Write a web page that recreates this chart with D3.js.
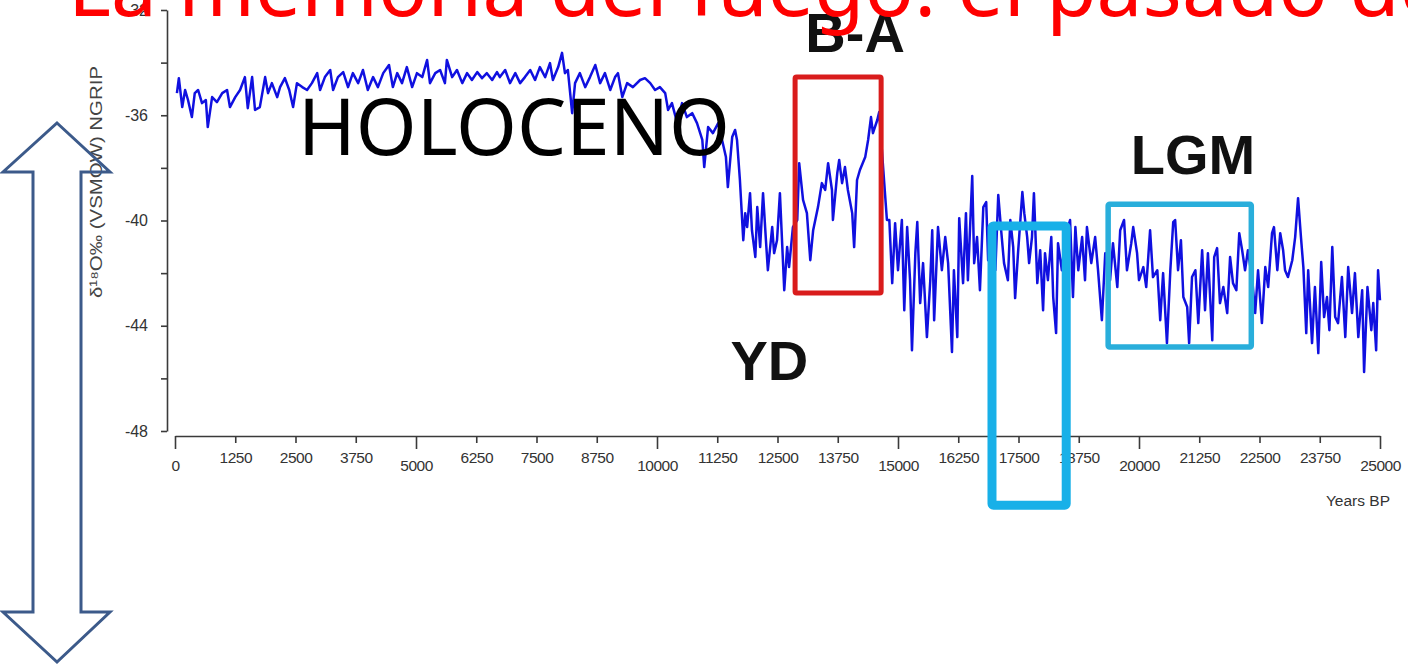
<!DOCTYPE html>
<html>
<head>
<meta charset="utf-8">
<script src="https://cdn.jsdelivr.net/npm/d3@7"></script>
<style>
  body { margin: 0; background: #fff; overflow: hidden; }
  svg { display: block; }
</style>
</head>
<body>
<div id="chart"></div>
<script>
// NGRIP d18O record (years BP / permil)
const years = [
  40, 80, 150, 210, 270, 350, 410, 480, 560, 640, 680, 770, 870, 980, 1080, 1140, 1250, 1350, 1450, 1510,
  1600, 1660, 1760, 1870, 1930, 2010, 2120, 2180, 2280, 2370, 2450, 2530, 2640, 2740, 2840, 2950, 3010, 3110, 3220, 3280,
  3380, 3490, 3590, 3690, 3800, 3900, 4000, 4110, 4210, 4320, 4440, 4520, 4610, 4710, 4810, 4920, 5020, 5130, 5230, 5290,
  5400, 5500, 5600, 5640, 5750, 5850, 5960, 6060, 6160, 6270, 6370, 6470, 6580, 6680, 6740, 6850, 6950, 7060, 7160, 7260,
  7370, 7470, 7570, 7680, 7780, 7840, 7950, 8030, 8090, 8150, 8240, 8300, 8400, 8510, 8610, 8720, 8820, 8920, 9030, 9130,
  9190, 9280, 9380, 9500, 9650, 9750, 9860, 9960, 10060, 10170, 10230, 10310, 10420, 10520, 10620, 10730, 10830, 10940, 10980, 11060,
  11160, 11270, 11350, 11430, 11470, 11560, 11620, 11660, 11720, 11790, 11830, 11870, 11930, 11970, 12040, 12080, 12140, 12200, 12260, 12300,
  12390, 12430, 12490, 12550, 12600, 12640, 12700, 12740, 12820, 12910, 12950, 13030, 13110, 13180, 13240, 13340, 13420, 13490, 13550, 13630,
  13650, 13740, 13780, 13840, 13900, 13960, 14050, 14090, 14150, 14210, 14320, 14380, 14440, 14480, 14570, 14610, 14670, 14770, 14820, 14880,
  14940, 15000, 15080, 15130, 15190, 15250, 15290, 15360, 15400, 15460, 15520, 15600, 15670, 15710, 15750, 15830, 15910, 15980, 16040, 16120,
  16160, 16230, 16270, 16350, 16410, 16450, 16540, 16580, 16640, 16700, 16770, 16830, 16870, 16950, 17020, 17080, 17140, 17200, 17280, 17330,
  17390, 17430, 17490, 17580, 17620, 17680, 17720, 17780, 17820, 17890, 17950, 18010, 18050, 18110, 18180, 18220, 18280, 18320, 18400, 18470,
  18570, 18630, 18680, 18740, 18820, 18880, 18920, 19010, 19090, 19150, 19230, 19300, 19400, 19460, 19550, 19610, 19690, 19750, 19840, 19880,
  19960, 20000, 20090, 20150, 20230, 20290, 20380, 20440, 20500, 20580, 20650, 20710, 20750, 20810, 20870, 20920, 21000, 21040, 21100, 21170,
  21230, 21310, 21370, 21430, 21520, 21560, 21620, 21680, 21750, 21830, 21890, 21950, 22020, 22080, 22140, 22200, 22260, 22350, 22410, 22470,
  22550, 22620, 22680, 22760, 22800, 22870, 22930, 22990, 23030, 23090, 23180, 23240, 23300, 23360, 23410, 23470, 23510, 23590, 23650, 23720,
  23780, 23840, 23900, 23950, 24010, 24070, 24130, 24210, 24280, 24340, 24420, 24480, 24550, 24630, 24670, 24740, 24820, 24860, 24920, 24960,
  25000
];
const d18O = [
  -35.16, -34.59, -35.69, -35.04, -35.42, -36.07, -35.16, -35.04, -35.54, -35.42, -36.45, -35.31, -35.50, -35.16, -35.04, -35.69, -35.31, -35.04, -34.55, -35.73,
  -34.55, -35.80, -35.69, -34.55, -35.16, -34.78, -35.31, -34.93, -34.59, -35.04, -35.69, -34.78, -34.93, -35.04, -34.78, -34.40, -35.04, -34.55, -34.28, -35.04,
  -34.55, -34.36, -34.93, -34.40, -34.78, -34.28, -35.04, -34.55, -34.93, -34.40, -34.09, -34.93, -34.40, -34.78, -34.17, -34.93, -34.40, -34.55, -33.90, -34.78,
  -34.40, -34.28, -34.78, -33.90, -34.55, -34.28, -34.78, -34.40, -34.66, -34.36, -34.59, -34.40, -34.66, -34.36, -34.55, -34.28, -34.78, -34.40, -34.78, -34.55,
  -34.28, -34.66, -34.17, -34.55, -34.02, -34.66, -34.17, -33.63, -34.40, -34.28, -35.92, -34.78, -34.40, -34.93, -34.55, -34.09, -34.78, -34.40, -35.04, -34.55,
  -34.40, -35.31, -34.78, -34.93, -34.66, -34.59, -34.78, -35.04, -34.93, -35.16, -35.80, -35.54, -36.30, -35.54, -36.07, -35.92, -36.30, -36.94, -37.97, -36.45,
  -36.68, -36.30, -36.94, -37.59, -38.73, -36.83, -36.56, -36.94, -38.46, -40.75, -39.72, -40.25, -38.96, -40.37, -41.39, -39.49, -41.01, -38.96, -40.75, -41.89,
  -40.25, -41.24, -40.75, -38.96, -41.01, -42.65, -41.01, -41.77, -40.25, -39.98, -37.82, -39.22, -39.72, -41.51, -40.37, -39.49, -38.58, -38.84, -37.82, -38.84,
  -39.98, -38.20, -37.70, -38.58, -37.97, -38.84, -39.72, -41.01, -38.46, -38.08, -37.59, -36.94, -36.07, -36.68, -36.18, -35.88, -37.44, -39.98, -39.98, -42.38,
  -40.10, -41.89, -39.98, -43.41, -40.25, -42.27, -44.93, -41.24, -40.06, -43.14, -41.62, -44.43, -42.27, -40.37, -43.79, -40.25, -41.89, -40.63, -41.62, -45.00,
  -41.89, -44.43, -39.91, -42.38, -39.72, -42.27, -38.31, -41.62, -40.63, -42.65, -39.49, -39.30, -41.51, -40.63, -41.89, -39.03, -40.37, -41.62, -42.27, -39.98,
  -41.01, -42.95, -41.24, -38.92, -39.72, -40.63, -41.62, -40.63, -38.96, -42.38, -41.13, -43.41, -41.24, -42.27, -40.63, -42.91, -44.28, -40.86, -41.89, -40.63,
  -39.98, -42.91, -40.25, -41.89, -40.63, -42.27, -40.25, -41.62, -40.63, -41.89, -43.79, -41.24, -42.27, -40.86, -42.53, -40.37, -39.98, -41.89, -40.86, -40.25,
  -41.24, -42.27, -41.77, -42.53, -40.37, -42.15, -41.89, -43.79, -42.00, -44.66, -41.89, -40.06, -39.98, -41.89, -40.75, -42.91, -43.29, -44.66, -42.15, -41.89,
  -43.90, -41.13, -43.41, -41.24, -44.55, -41.39, -41.05, -43.14, -42.53, -43.52, -41.39, -42.38, -42.65, -40.48, -41.13, -41.89, -41.13, -42.27, -43.52, -41.89,
  -43.90, -41.77, -42.53, -40.48, -40.25, -41.89, -40.48, -41.13, -41.89, -42.15, -41.51, -40.63, -39.15, -40.63, -41.77, -44.28, -41.89, -44.66, -42.53, -45.04,
  -41.58, -43.67, -42.91, -44.17, -41.01, -43.67, -43.90, -42.15, -44.43, -41.77, -43.52, -42.00, -44.43, -42.65, -45.76, -42.53, -44.17, -43.14, -44.93, -41.89,
  -43.03
];

// axes
const xTicks = [0, 1250, 2500, 3750, 5000, 6250, 7500, 8750, 10000, 11250, 12500, 13750, 15000, 16250, 17500, 18750, 20000, 21250, 22500, 23750, 25000];
const yTicks = [-48, -46, -44, -42, -40, -38, -36, -34, -32];
const yLabelled = [-48, -44, -40, -36, -32];

// annotation boxes (years BP / permil)
const boxStart = [12865, 16950, 19360];
const boxEnd = [14650, 18490, 22330];
const boxTop = [-34.55, -40.21, -39.38];
const boxBottom = [-42.76, -50.82, -44.81];

// period labels
const periodNames = ["B-A", "YD", "LGM"];
const periodYear = [14110, 12330, 21120];
const periodValue = [-33.6, -46.07, -38.24];

const W = 1408, H = 668;
const svg = d3.select("#chart").append("svg")
    .attr("width", W)
    .attr("height", H);

svg.append("rect").attr("width", W).attr("height", H).attr("fill", "#fff");

const x = d3.scaleLinear().domain([0, 25000]).range([175, 1380]);
const y = d3.scaleLinear().domain([-48, -32]).range([431, 10]);

const tickFont = "'Liberation Sans', Arial, sans-serif";

// y axis
const yAxis = svg.append("g")
    .attr("transform", "translate(167,0)")
    .call(d3.axisLeft(y).tickValues(yTicks).tickSize(6).tickSizeOuter(0)
        .tickFormat(d => yLabelled.includes(d) ? String(d) : ""));
yAxis.select(".domain").attr("stroke", "#3a3a3a").attr("stroke-width", 1.6);
yAxis.selectAll(".tick line").attr("stroke", "#3a3a3a").attr("stroke-width", 1.6);
yAxis.selectAll(".tick text")
    .attr("x", -19)
    .attr("fill", "#333")
    .style("font-family", tickFont)
    .style("font-size", "16px");

// x axis
const xAxis = svg.append("g")
    .attr("transform", "translate(0,436)")
    .call(d3.axisBottom(x).tickValues(xTicks).tickSize(7).tickSizeOuter(0)
        .tickFormat(d => String(d)));
xAxis.select(".domain").attr("stroke", "#3a3a3a").attr("stroke-width", 1.6);
xAxis.selectAll(".tick line")
    .attr("stroke", "#3a3a3a")
    .attr("stroke-width", 1.6)
    .attr("y2", d => d % 5000 === 0 ? 13 : 7);
xAxis.selectAll(".tick text")
    .attr("dy", null)
    .attr("y", d => d % 5000 === 0 ? 35 : 27)
    .attr("fill", "#333")
    .style("font-family", tickFont)
    .style("font-size", "15.5px")
    .style("letter-spacing", "-0.5px");

svg.append("text")
    .attr("x", 1390)
    .attr("y", 506)
    .attr("text-anchor", "end")
    .attr("fill", "#333")
    .style("font-family", tickFont)
    .style("font-size", "15.5px")
    .text("Years BP");

svg.append("text")
    .attr("transform", "translate(102,182) rotate(-90)")
    .attr("text-anchor", "middle")
    .attr("fill", "#444")
    .attr("textLength", 232)
    .attr("lengthAdjust", "spacingAndGlyphs")
    .style("font-family", tickFont)
    .style("font-size", "17px")
    .text("δ¹⁸O‰ (VSMOW) NGRIP");

// the record
const series = years.map((yr, i) => ({year: yr, v: d18O[i]}));
const line = d3.line()
    .x(d => x(d.year))
    .y(d => y(d.v));

svg.append("path")
    .datum(series)
    .attr("d", line)
    .attr("fill", "none")
    .attr("stroke", "#1010e0")
    .attr("stroke-width", 2.5)
    .attr("stroke-linejoin", "round");

// boxes
const boxColors = ["#d91c1c", "#18b0e8", "#29aedb"];
const boxWidths = [5, 9, 5.5];
svg.selectAll(".box")
    .data(boxStart)
    .enter()
    .append("rect")
    .attr("class", "box")
    .attr("x", (d, i) => x(d))
    .attr("y", (d, i) => y(boxTop[i]))
    .attr("width", (d, i) => x(boxEnd[i]) - x(d))
    .attr("height", (d, i) => y(boxBottom[i]) - y(boxTop[i]))
    .attr("fill", "none")
    .attr("stroke", (d, i) => boxColors[i])
    .attr("stroke-width", (d, i) => boxWidths[i])
    .attr("rx", 1.5);

// period labels
svg.selectAll(".period")
    .data(periodNames)
    .enter()
    .append("text")
    .attr("class", "period")
    .attr("x", (d, i) => x(periodYear[i]))
    .attr("y", (d, i) => y(periodValue[i]))
    .attr("text-anchor", "middle")
    .attr("fill", "#111")
    .style("font-family", tickFont)
    .style("font-weight", "bold")
    .style("font-size", "56px")
    .text(d => d);

svg.append("text")
    .attr("x", x(2552))
    .attr("y", y(-37.51))
    .attr("fill", "#000")
    .attr("textLength", 432)
    .attr("lengthAdjust", "spacingAndGlyphs")
    .style("font-family", "'Noto Sans', 'Open Sans', sans-serif")
    .style("font-size", "78px")
    .text("HOLOCENO");

// double arrow
const arrowPts = [[57, 123], [110, 172], [81, 172], [81, 612], [110, 612], [57, 662],
    [3, 612], [33, 612], [33, 172], [3, 172]];
svg.append("path")
    .attr("d", d3.line()(arrowPts) + "Z")
    .attr("fill", "none")
    .attr("stroke", "#3c5a8a")
    .attr("stroke-width", 3)
    .attr("stroke-linejoin", "miter");

// slide title
svg.append("text")
    .attr("x", 68)
    .attr("y", 16)
    .attr("fill", "#ff0000")
    .style("font-family", "'Noto Sans', 'Open Sans', sans-serif")
    .style("font-size", "82px")
    .text("La memoria del fuego: el pasado de");
</script>
</body>
</html>
